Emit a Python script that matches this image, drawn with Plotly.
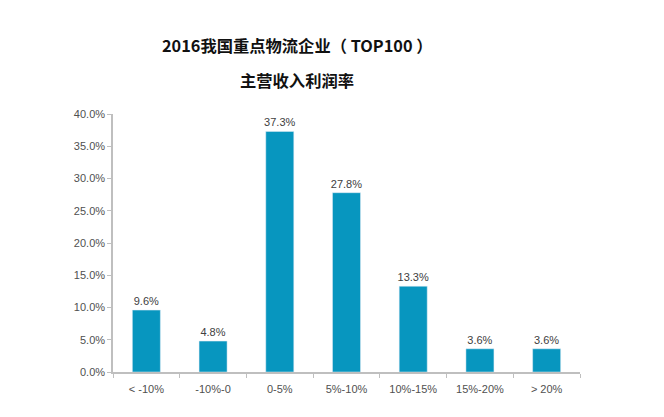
import plotly.graph_objects as go

categories = ["< -10%", "-10%-0", "0-5%", "5%-10%", "10%-15%", "15%-20%", "> 20%"]
values = [9.6, 4.8, 37.3, 27.8, 13.3, 3.6, 3.6]
labels = ["9.6%", "4.8%", "37.3%", "27.8%", "13.3%", "3.6%", "3.6%"]
yticks = [0, 5, 10, 15, 20, 25, 30, 35, 40]
yticklabels = ["0.0%", "5.0%", "10.0%", "15.0%", "20.0%", "25.0%", "30.0%", "35.0%", "40.0%"]

fig = go.Figure(go.Bar(
    x=categories, y=values, text=labels, textposition="outside",
    constraintext="none",
    textfont=dict(size=11, color="#404040", family="Liberation Sans, Arial"),
    marker=dict(color="#0796BF"), cliponaxis=False,
))

fig.update_layout(
    width=664, height=417,
    margin=dict(l=105, r=92, t=106, b=53),
    plot_bgcolor="white", paper_bgcolor="white",
    bargap=0.58, showlegend=False,
    font=dict(family="Liberation Sans, Arial", color="#505050", size=11),
    xaxis=dict(showline=True, linecolor="#BFBFBF", linewidth=1.5,
               ticks="outside", tickson="boundaries", ticklen=4, tickcolor="#BFBFBF",
               ticklabelstandoff=6,
               tickfont=dict(size=11, color="#505050")),
    yaxis=dict(range=[0, 40], tickvals=yticks, ticktext=yticklabels,
               showline=True, linecolor="#BFBFBF", linewidth=1.5,
               ticks="outside", ticklen=4, tickcolor="#BFBFBF",
               showgrid=False, zeroline=False,
               tickfont=dict(size=11, color="#505050")),
    annotations=[
        dict(text="<b>2016我国重点物流企业（ TOP100 ）</b>", xref="paper", yref="paper",
             x=0.395, y=1.0, yshift=69, yanchor="middle", showarrow=False, xanchor="center",
             font=dict(size=16.3, color="#111111", family="Noto Sans CJK SC")),
        dict(text="<b>主营收入利润率</b>", xref="paper", yref="paper",
             x=0.395, y=1.0, yshift=34, yanchor="middle", showarrow=False, xanchor="center",
             font=dict(size=16.3, color="#111111", family="Noto Sans CJK SC")),
    ],
)

fig.write_html("out.html")
